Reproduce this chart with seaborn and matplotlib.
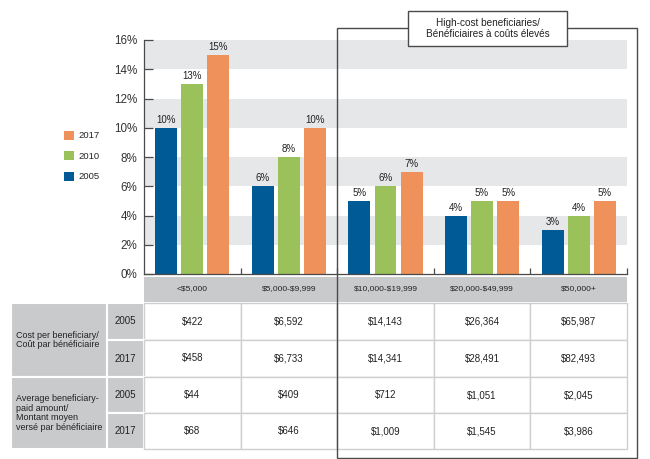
import numpy as np
import pandas as pd
import seaborn as sns
import matplotlib.pyplot as plt
from matplotlib.patches import Rectangle, Patch

sns.set_theme(style="white")
plt.rcParams["font.family"] = ["Liberation Sans", "DejaVu Sans"]
plt.rcParams["text.parse_math"] = False  # dollar signs are literal

categories = ["<$5,000", "$5,000-$9,999", "$10,000-$19,999", "$20,000-$49,999", "$50,000+"]
years = ["2005", "2010", "2017"]
share_2005 = [10, 6, 5, 4, 3]
share_2010 = [13, 8, 6, 5, 4]
share_2017 = [15, 10, 7, 5, 5]
y_ticks = [0, 2, 4, 6, 8, 10, 12, 14, 16]

table_years = ["2005", "2017"]
cost_2005 = ["$422", "$6,592", "$14,143", "$26,364", "$65,987"]
cost_2017 = ["$458", "$6,733", "$14,341", "$28,491", "$82,493"]
paid_2005 = ["$44", "$409", "$712", "$1,051", "$2,045"]
paid_2017 = ["$68", "$646", "$1,009", "$1,545", "$3,986"]
group_labels = ["Cost per beneficiary/\nCoût par bénéficiaire",
                "Average beneficiary-\npaid amount/\nMontant moyen\nversé par bénéficiaire"]
box_title = "High-cost beneficiaries/\nBénéficiaires à coûts élevés"

palette = ["#005a96", "#9bc25a", "#ee915b"]
band_color = "#e6e7e8"
header_color = "#c9cacc"
line_color = "#4a4a4a"
text_color = "#222222"

df = pd.DataFrame({
    "category": categories * 3,
    "year": [y for y in years for _ in categories],
    "share": share_2005 + share_2010 + share_2017,
})

W, H = 650, 459
fig = plt.figure(figsize=(6.5, 4.59), dpi=100)

# ---- bar chart ----
ax = fig.add_axes([144 / W, 1 - 274 / H, (627 - 144) / W, (274 - 40) / H])
for lo in [2, 6, 10, 14]:
    ax.axhspan(lo, lo + 2, color=band_color, lw=0, zorder=0)
sns.barplot(data=df, x="category", y="share", hue="year", order=categories,
            hue_order=years, palette=palette, saturation=1, width=0.81, gap=0.16,
            legend=False, ax=ax, zorder=2)
for bars in ax.patches:
    bars.set_linewidth(0)
for container in ax.containers:
    ax.bar_label(container, fmt="{:.0f}%", fontsize=7.0, padding=2, color=text_color)

ax.set_xlim(-0.5, len(categories) - 0.5)
ax.set_ylim(0, 16)
ax.set_yticks(y_ticks)
ax.set_yticklabels([f"{t}%" for t in y_ticks], fontsize=8.4, color="#333333")
ax.set_xticks([])
ax.set_xticks(np.arange(0.5, len(categories)), minor=True)
ax.tick_params(axis="y", direction="in", length=6.5, width=0.9, color=line_color, pad=5, left=True)
ax.tick_params(axis="x", which="minor", direction="in", length=4.5, width=0.9,
               color=line_color, bottom=True)
ax.set_xlabel("")
ax.set_ylabel("")
for side in ["top", "right"]:
    ax.spines[side].set_visible(False)
for side in ["left", "bottom"]:
    ax.spines[side].set_color(line_color)
    ax.spines[side].set_linewidth(0.9)

# category header row under the axis
xt = ax.get_xaxis_transform()
ax.add_patch(Rectangle((-0.5, -(302 - 274) / 234), len(categories), (302 - 277) / 234,
                       transform=xt, facecolor=header_color, lw=0, clip_on=False))
for i, cat in enumerate(categories):
    ax.text(i, -(289 - 274) / 234, cat, transform=xt, ha="center", va="center",
            fontsize=6.0, color=text_color)

handles = [Patch(facecolor=c, edgecolor="none") for c in palette]
ax.legend(handles[::-1], years[::-1], loc="center left",
          bbox_to_anchor=(60 / W, 1 - 156 / H), bbox_transform=fig.transFigure,
          frameon=False, fontsize=6.8, handlelength=1.1, handleheight=1.1,
          handletextpad=0.5, labelspacing=1.15, borderaxespad=0)

# ---- table + high-cost box (pixel coordinates) ----
tax = fig.add_axes([0, 0, 1, 1], zorder=5)
tax.set_xlim(0, W)
tax.set_ylim(H, 0)
tax.axis("off")
tax.patch.set_alpha(0)

row_edges = [303, 340, 377, 413, 449]
col_edges = np.linspace(144, 627, len(categories) + 1)
rows = [cost_2005, cost_2017, paid_2005, paid_2017]
grid = "#cfcfcf"

# label and year columns
for g in range(2):
    y0, y1 = row_edges[2 * g], row_edges[2 * g + 2]
    tax.add_patch(Rectangle((11, y0), 96, y1 - y0, facecolor=header_color,
                            edgecolor="white", lw=1.5))
    tax.text(16, (y0 + y1) / 2, group_labels[g], ha="left", va="center",
             fontsize=6.5, color=text_color, linespacing=1.12)
for r in range(4):
    y0, y1 = row_edges[r], row_edges[r + 1]
    tax.add_patch(Rectangle((107, y0), 37, y1 - y0, facecolor=header_color,
                            edgecolor="white", lw=1.5))
    tax.text(125.5, (y0 + y1) / 2, table_years[r % 2], ha="center", va="center",
             fontsize=7.0, color=text_color)
    for c, val in enumerate(rows[r]):
        tax.add_patch(Rectangle((col_edges[c], y0), col_edges[c + 1] - col_edges[c],
                                y1 - y0, facecolor="white", edgecolor=grid, lw=1))
        tax.text((col_edges[c] + col_edges[c + 1]) / 2, (y0 + y1) / 2, val,
                 ha="center", va="center", fontsize=7.0, color=text_color)

tax.add_patch(Rectangle((337, 28), 300, 430, fill=False, edgecolor=line_color, lw=1))
tax.add_patch(Rectangle((408, 11), 159, 35, facecolor="white", edgecolor=line_color, lw=1))
tax.text(487.5, 28.5, box_title, ha="center", va="center", fontsize=7.2,
         color=text_color, linespacing=1.2)

fig.savefig("out.png", dpi=100)
